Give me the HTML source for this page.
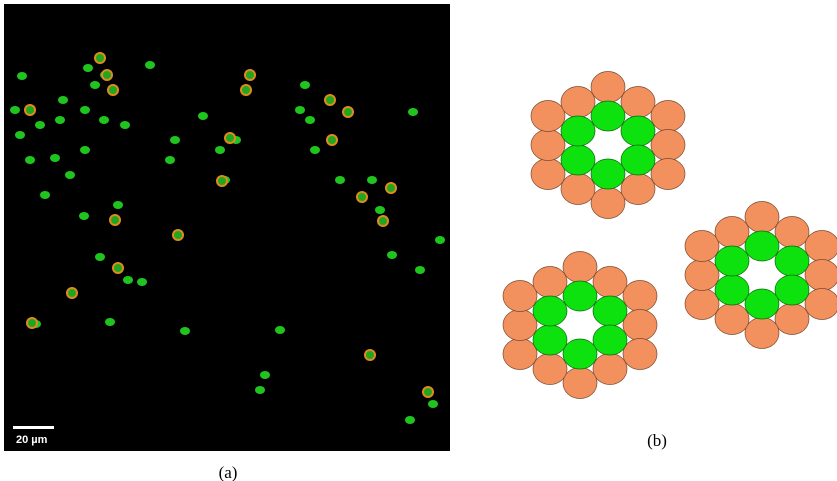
<!DOCTYPE html>
<html><head><meta charset="utf-8"><style>
body{margin:0;background:#fff;width:837px;height:481px;overflow:hidden;font-family:"Liberation Serif",serif;}
</style></head><body>
<svg width="837" height="481" style="position:absolute;left:0;top:0">
<g>
<rect x="4" y="4" width="446" height="447" fill="#000"/>
<g id="blobs"></g>
<rect x="13" y="426" width="41" height="3" fill="#fff"/>
<text x="16" y="443" font-family="Liberation Sans, sans-serif" font-weight="bold" font-size="11" fill="#fff">20 µm</text>
</g>
<text x="228" y="478" text-anchor="middle" font-size="17" fill="#000">(a)</text>
<g id="clusters"></g>
<text x="657" y="446" text-anchor="middle" font-size="17" fill="#000">(b)</text>
</svg>
<script>
const NS="http://www.w3.org/2000/svg";
const greenBlobs=[[22,76],[88,68],[105,75],[63,100],[85,110],[95,85],[60,120],[40,125],[55,158],[70,175],[85,150],[104,120],[30,160],[45,195],[84,216],[118,205],[100,257],[128,280],[142,282],[36,324],[110,322],[185,331],[150,65],[203,116],[225,180],[220,150],[236,140],[305,85],[310,120],[413,112],[340,180],[372,180],[380,210],[392,255],[315,150],[280,330],[265,375],[260,390],[300,110],[440,240],[420,270],[410,420],[433,404],[170,160],[175,140],[15,110],[20,135],[125,125]];
const ringCells=[[100,58],[250,75],[246,90],[30,110],[113,90],[230,138],[330,100],[332,140],[348,112],[115,220],[178,235],[118,268],[72,293],[362,197],[391,188],[383,221],[370,355],[428,392],[222,181],[107,75],[32,323]];
const bg=document.getElementById('blobs');
greenBlobs.forEach(p=>{const e=document.createElementNS(NS,'ellipse');
e.setAttribute('cx',p[0]);e.setAttribute('cy',p[1]);e.setAttribute('rx',5);e.setAttribute('ry',4);e.setAttribute('fill','#1fc41f');


bg.appendChild(e);});
ringCells.forEach(p=>{const e=document.createElementNS(NS,'circle');
e.setAttribute('cx',p[0]);e.setAttribute('cy',p[1]);e.setAttribute('r',5);e.setAttribute('fill','#1fa81f');e.setAttribute('stroke','#e08a20');e.setAttribute('stroke-width','2');


bg.appendChild(e);});
const centers=[[608,145],[580,325],[762,275]];
const outer=[[0,-58],[30,-43],[60,-29],[60,0],[60,29],[30,44],[0,58],[-30,44],[-60,29],[-60,0],[-60,-29],[-30,-43]];
const inner=[[0,-29],[30,-14],[30,15],[0,29],[-30,15],[-30,-14]];
const cg=document.getElementById('clusters');
centers.forEach(c=>{
 outer.forEach(o=>{const e=document.createElementNS(NS,'ellipse');
 e.setAttribute('cx',c[0]+o[0]);e.setAttribute('cy',c[1]+o[1]);e.setAttribute('rx',17);e.setAttribute('ry',15.5);
 e.setAttribute('fill','#f2905e');e.setAttribute('stroke','#7a4a30');e.setAttribute('stroke-width','0.7');
 
 
 cg.appendChild(e);});
 inner.forEach(o=>{const e=document.createElementNS(NS,'ellipse');
 e.setAttribute('cx',c[0]+o[0]);e.setAttribute('cy',c[1]+o[1]);e.setAttribute('rx',17);e.setAttribute('ry',15);
 e.setAttribute('fill','#0ee20e');e.setAttribute('stroke','#0a6a0a');e.setAttribute('stroke-width','0.7');
 
 
 cg.appendChild(e);});
});
</script>
</body></html>
